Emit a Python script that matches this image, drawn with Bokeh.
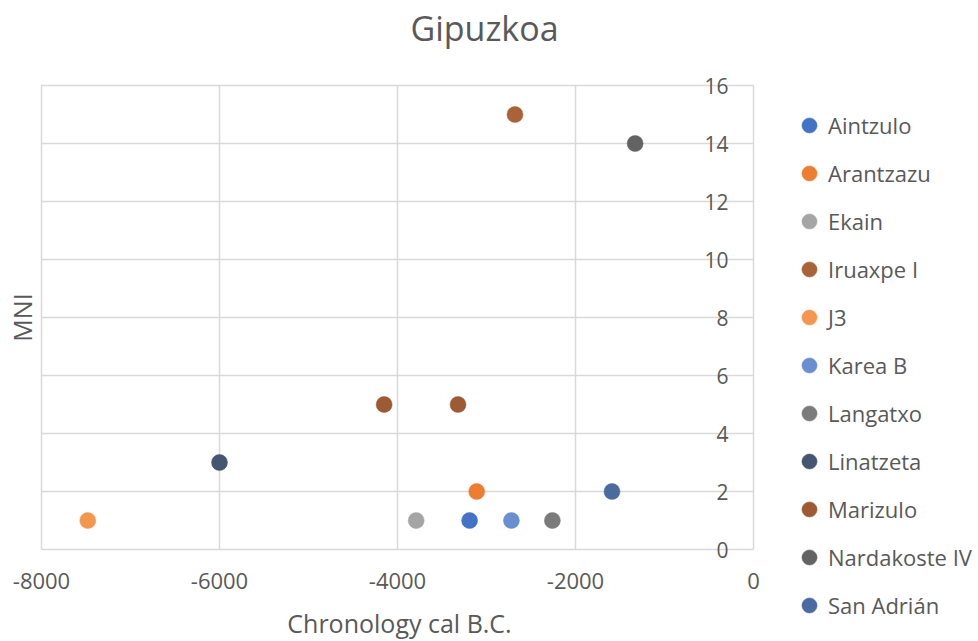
import math
from bokeh.plotting import figure
from bokeh.models import (ColumnDataSource, Legend, LegendItem, LabelSet, Label, Range1d)
from bokeh.core.properties import value
from bokeh.embed import file_html
from bokeh.resources import INLINE

# ---- data ----
sites = ["Aintzulo", "Arantzazu", "Ekain", "Iruaxpe I", "J3", "Karea B", "Langatxo",
         "Linatzeta", "Marizulo", "Nardakoste IV", "San Adrián"]
chronology = [[-3190], [-3110], [-3790], [-2680], [-7480], [-2720], [-2260],
              [-6000], [-4150, -3320], [-1330], [-1590]]
mni = [[1], [2], [1], [15], [1], [1], [1], [3], [5, 5], [14], [2]]
colors = ["#4472C4", "#ED7D31", "#A5A5A5", "#AA6238", "#F4964F", "#6A8FD1", "#7B7B7B",
          "#465670", "#9C5B34", "#636363", "#4A6AA0"]
x_ticks = [-8000, -6000, -4000, -2000, 0]
y_ticks = [0, 2, 4, 6, 8, 10, 12, 14, 16]
title_text = "Gipuzkoa"
x_title = "Chronology cal B.C."
y_title = "MNI"

FONT = "Open Sans"
TXT = "#595959"
GRID = "#D9D9D9"

W, H = 978, 641
# pixel box of the data rectangle inside the page
BOX_L, BOX_R, BOX_T, BOX_B = 41, 753, 85, 549
xmin, xmax = x_ticks[0], x_ticks[-1]
ymin, ymax = y_ticks[0], y_ticks[-1]
pxx = (BOX_R - BOX_L) / (xmax - xmin)
pxy = (BOX_B - BOX_T) / (ymax - ymin)
x_range = Range1d(xmin - BOX_L / pxx, xmax + (W - BOX_R) / pxx)
y_range = Range1d(ymin - (H - BOX_B) / pxy, ymax + BOX_T / pxy)

p = figure(width=W, height=H, output_backend="svg", toolbar_location=None,
           x_range=x_range, y_range=y_range, x_axis_location=None, y_axis_location=None,
           min_border=0, background_fill_color="white", border_fill_color="white")
p.outline_line_color = None
p.grid.visible = False

# grid lines of the plot area (bounded to the data rectangle)
p.segment(x0=x_ticks, y0=[ymin] * len(x_ticks), x1=x_ticks, y1=[ymax] * len(x_ticks),
          line_color=GRID, line_width=1.5)
p.segment(x0=[xmin] * len(y_ticks), y0=y_ticks, x1=[xmax] * len(y_ticks), y1=y_ticks,
          line_color=GRID, line_width=1.5)

# x tick labels under the plot area
xlab_src = ColumnDataSource(dict(x=x_ticks, y=[ymin] * len(x_ticks), t=[str(v) for v in x_ticks]))
p.add_layout(LabelSet(x="x", y="y", text="t", source=xlab_src, y_offset=-31,
                      text_align="center", text_baseline="middle",
                      text_font=value(FONT), text_font_size="22px", text_color=TXT))

# y tick labels next to the vertical axis at x = 0
ylab_src = ColumnDataSource(dict(x=[xmax] * len(y_ticks), y=y_ticks, t=[str(v) for v in y_ticks]))
p.add_layout(LabelSet(x="x", y="y", text="t", source=ylab_src, x_offset=-25,
                      text_align="right", text_baseline="middle",
                      text_font=value(FONT), text_font_size="21px", text_color=TXT))

# chart title and axis titles (screen units, origin bottom-left)
p.add_layout(Label(x=484, y=H - 27, x_units="screen", y_units="screen", text=title_text,
                   text_align="center", text_baseline="middle", text_font=FONT,
                   text_font_size="34px", text_color=TXT))
p.add_layout(Label(x=(BOX_L + BOX_R) / 2 + 2, y=H - 622, x_units="screen", y_units="screen",
                   text=x_title, text_align="center", text_baseline="middle", text_font=FONT,
                   text_font_size="25px", text_color=TXT))
p.add_layout(Label(x=21, y=H - 317, x_units="screen", y_units="screen", text=y_title,
                   angle=math.pi / 2, text_align="center", text_baseline="middle",
                   text_font=FONT, text_font_size="25px", text_color=TXT))

items = []
for name, xs, ys, c in zip(sites, chronology, mni, colors):
    src = ColumnDataSource(dict(x=xs, y=ys))
    r = p.scatter("x", "y", source=src, size=16, fill_color=c, line_color=c, line_width=0.5)
    items.append(LegendItem(label=name, renderers=[r]))

legend = Legend(items=items, location=(790, H - 624), orientation="vertical",
                glyph_width=38, glyph_height=38, label_height=38, spacing=10,
                label_standoff=0, padding=0, margin=0,
                border_line_color=None, background_fill_alpha=0,
                label_text_font=FONT, label_text_font_size="22px", label_text_color=TXT)
p.add_layout(legend, "center")

open("out.html", "w").write(file_html(p, INLINE))
